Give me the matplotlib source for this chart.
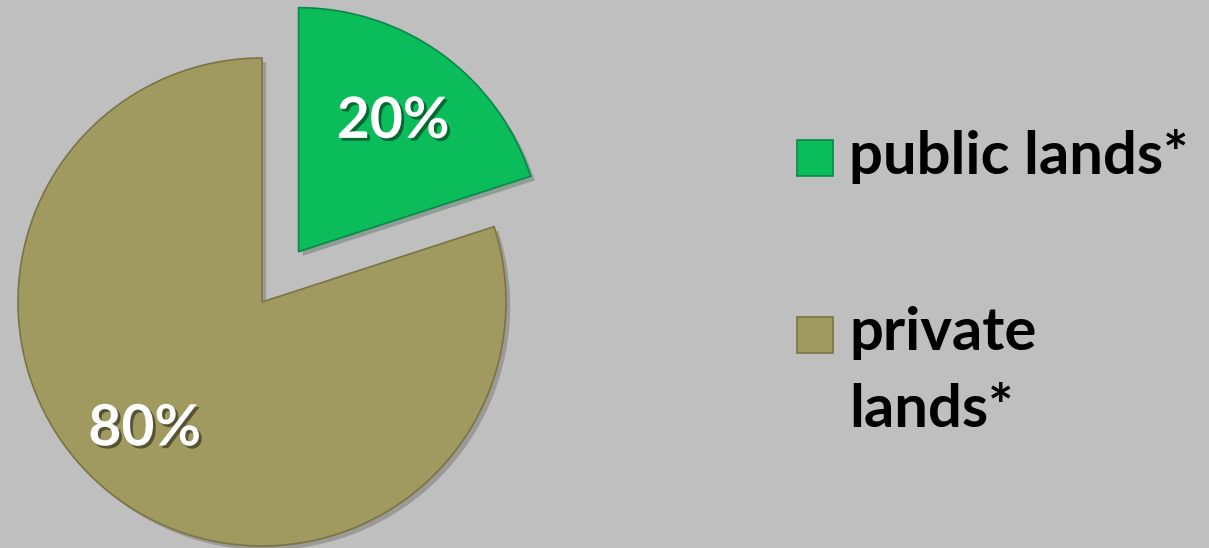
import matplotlib
matplotlib.use("Agg")
import matplotlib.pyplot as plt
import matplotlib.patheffects as pe
from matplotlib.patches import Rectangle

# data
labels = ["public lands*", "private\nlands*"]
shares = [20, 80]
colors = ["#0ABD5A", "#A09A60"]
edges = ["#07894A", "#7A7444"]
explode = [0.255, 0.0]

bg = "#BFBFBF"
W, H = 1209, 548
plt.rcParams["font.family"] = ["Lato", "DejaVu Sans"]

fig = plt.figure(figsize=(W / 100, H / 100), dpi=100, facecolor=bg)
ax = fig.add_axes([0, 0, 1, 1])
ax.set_facecolor(bg)

# pie centre at pixel (262, 302), radius 244 px
R = 244.0
cx, cy = 262.0, 302.0

wedges, texts, autotexts = ax.pie(
    shares, colors=colors, explode=explode, startangle=90, counterclock=False,
    autopct="%d%%", pctdistance=0.66, radius=1.0,
    wedgeprops=dict(linewidth=1.2),
    textprops=dict(color="white", fontsize=41, fontweight="bold"),
)
ax.set_xlim(-cx / R, (W - cx) / R)
ax.set_ylim(-(H - cy) / R, cy / R)
ax.set_aspect("auto")
ax.axis("off")

for w, ec in zip(wedges, edges):
    w.set_edgecolor(ec)
    w.set_path_effects([pe.SimplePatchShadow(offset=(3, -3), alpha=0.25), pe.Normal()])

for t in autotexts:
    t.set_path_effects([pe.withSimplePatchShadow(offset=(2, -2), shadow_rgbFace="black", alpha=0.45)])
# nudge the 80% label toward where it sits in the reference
autotexts[1].set_position((-0.48, -0.52))

# legend drawn by hand so the swatch lines up with the first text line
sq = 36
legend_rows = [(797, 140), (797, 317)]
for (lx, ty), lab, c, ec in zip(legend_rows, labels, colors, edges):
    fig.patches.append(Rectangle((lx / W, 1 - (ty + sq) / H), sq / W, sq / H,
                                 transform=fig.transFigure, facecolor=c,
                                 edgecolor=ec, linewidth=1.2))
    fig.text(849 / W, 1 - (ty - 11) / H, lab, fontsize=43, fontweight="bold",
             color="black", ha="left", va="top", linespacing=1.52)

fig.savefig("out.png", dpi=100, facecolor=bg)
